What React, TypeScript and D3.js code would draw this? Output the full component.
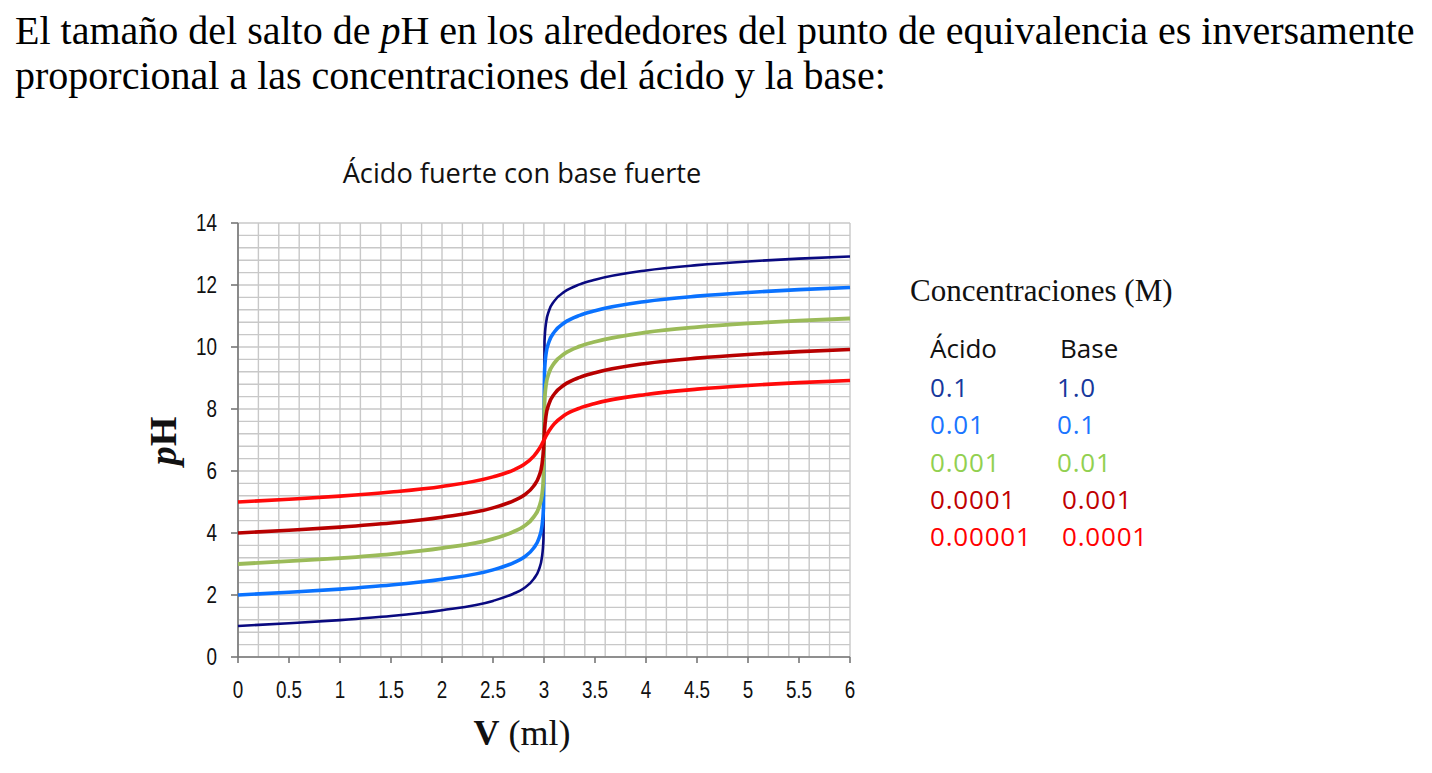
import React from "react";
import * as d3 from "d3";

const volumes = [0, 0.5, 1, 1.5, 2, 2.5, 2.7, 2.8, 2.9, 2.95, 2.98, 2.995, 3.0, 3.005, 3.02, 3.05, 3.1, 3.2, 3.35, 3.5, 4, 4.5, 5, 5.5, 6];

const phNavy = [1.0, 1.09, 1.19, 1.32, 1.51, 1.81, 2.04, 2.21, 2.52, 2.82, 3.22, 3.82, 7.0, 10.18, 10.78, 11.18, 11.48, 11.78, 12.02, 12.17, 12.47, 12.64, 12.76, 12.85, 12.92];
const phBlue = [2.0, 2.09, 2.19, 2.32, 2.51, 2.81, 3.04, 3.21, 3.52, 3.82, 4.22, 4.82, 7.0, 9.18, 9.78, 10.18, 10.48, 10.78, 11.02, 11.17, 11.47, 11.64, 11.76, 11.85, 11.92];
const phGreen = [3.0, 3.09, 3.19, 3.32, 3.51, 3.81, 4.04, 4.21, 4.52, 4.82, 5.22, 5.8, 7.0, 8.2, 8.78, 9.18, 9.48, 9.78, 10.02, 10.17, 10.47, 10.64, 10.76, 10.85, 10.92];
const phDarkRed = [4.0, 4.09, 4.19, 4.32, 4.51, 4.81, 5.04, 5.21, 5.52, 5.82, 6.21, 6.7, 7.0, 7.3, 7.79, 8.18, 8.48, 8.78, 9.02, 9.17, 9.47, 9.64, 9.76, 9.85, 9.92];
const phRed = [5.0, 5.09, 5.19, 5.32, 5.5, 5.81, 6.03, 6.2, 6.48, 6.7, 6.87, 6.97, 7.0, 7.03, 7.13, 7.3, 7.52, 7.8, 8.03, 8.18, 8.47, 8.64, 8.76, 8.85, 8.92];

const seriesList = [
  { name: "navy", values: phNavy, color: "#0a0a80", width: 2.6 },
  { name: "blue", values: phBlue, color: "#0a72ff", width: 3.6 },
  { name: "green", values: phGreen, color: "#9bbb59", width: 3.8 },
  { name: "darkred", values: phDarkRed, color: "#b80000", width: 3.6 },
  { name: "red", values: phRed, color: "#ff0a0a", width: 3.6 },
];

const xTicks = [0, 0.5, 1, 1.5, 2, 2.5, 3, 3.5, 4, 4.5, 5, 5.5, 6];
const yTicks = [0, 2, 4, 6, 8, 10, 12, 14];

const legendAcid = ["0.1", "0.01", "0.001", "0.0001", "0.00001"];
const legendBase = ["1.0", "0.1", "0.01", "0.001", "0.0001"];
const legendColors = ["#17389c", "#1a75ff", "#92d050", "#c00000", "#ff0000"];

export default function App() {
  const x = d3.scaleLinear().domain([0, 6]).range([238, 850]);
  const y = d3.scaleLinear().domain([0, 14]).range([657, 223]);
  const vGrid = d3.range(0, 6.0001, 0.2);
  const hGrid = d3.range(0, 14.0001, 0.4);
  const line = d3
    .line<number>()
    .x((_, i) => x(volumes[i]))
    .y((d) => y(d))
    .curve(d3.curveMonotoneX);

  const serif = "'Liberation Serif', 'Times New Roman', serif";
  const sans = "'Liberation Sans', Arial, sans-serif";
  const cal = "'Open Sans', sans-serif";

  return (
    <svg
      width={1432}
      height={773}
      style={{ position: "absolute", left: 0, top: 0, background: "#fff" }}
    >
      <rect x={0} y={0} width={1432} height={773} fill="#fff" />
      <text x={15} y={44} fontFamily={serif} fontSize={40} fill="#000">
        El tamaño del salto de <tspan fontStyle="italic">p</tspan>H en los alrededores del punto de equivalencia es inversamente
      </text>
      <text x={15} y={89} fontFamily={serif} fontSize={40} fill="#000">
        proporcional a las concentraciones del ácido y la base:
      </text>

      <text x={522} y={183} textAnchor="middle" fontFamily={cal} fontSize={27.2} fill="#111">
        Ácido fuerte con base fuerte
      </text>

      <g>
        {vGrid.map((v, i) => (
          <line key={"v" + i} x1={x(v)} x2={x(v)} y1={y(0)} y2={y(14)} stroke="#c8c8c8" strokeWidth={1.4} />
        ))}
        {hGrid.map((v, i) => (
          <line key={"h" + i} x1={x(0)} x2={x(6)} y1={y(v)} y2={y(v)} stroke="#c8c8c8" strokeWidth={1.4} />
        ))}
      </g>

      <line x1={x(0)} x2={x(0)} y1={y(0)} y2={y(14)} stroke="#777" strokeWidth={1.6} />
      <line x1={x(0)} x2={x(6)} y1={y(0)} y2={y(0)} stroke="#777" strokeWidth={1.6} />
      {yTicks.map((t) => (
        <g key={"yt" + t}>
          <line x1={x(0) - 7} x2={x(0)} y1={y(t)} y2={y(t)} stroke="#777" strokeWidth={1.6} />
          <text x={217} y={y(t) + 8.3} textAnchor="end" fontFamily={sans} fontSize={23} fill="#111" transform={`translate(217 0) scale(0.82 1) translate(-217 0)`}>
            {t}
          </text>
        </g>
      ))}
      {xTicks.map((t) => (
        <g key={"xt" + t}>
          <line x1={x(t)} x2={x(t)} y1={y(0)} y2={y(0) + 6} stroke="#777" strokeWidth={1.6} />
          <text x={x(t)} y={698.5} textAnchor="middle" fontFamily={sans} fontSize={23} fill="#111" transform={`translate(${x(t)} 0) scale(0.82 1) translate(${-x(t)} 0)`}>
            {t}
          </text>
        </g>
      ))}

      {seriesList.map((s) => (
        <path key={s.name} d={line(s.values) || ""} fill="none" stroke={s.color} strokeWidth={s.width} strokeLinejoin="round" />
      ))}

      <text transform="translate(176 441) rotate(-90)" textAnchor="middle" fontFamily={serif} fontSize={38} fontWeight="bold" fill="#111">
        <tspan fontStyle="italic">p</tspan>H
      </text>
      <text x={522} y={745} textAnchor="middle" fontFamily={serif} fontSize={36} fill="#111">
        <tspan fontWeight="bold">V</tspan> (ml)
      </text>

      <text x={910} y={301} fontFamily={serif} fontSize={31} fill="#111">
        Concentraciones (M)
      </text>
      <text x={930} y={358} fontFamily={cal} fontSize={26} fill="#111">Ácido</text>
      <text x={1060} y={358} fontFamily={cal} fontSize={26} fill="#111">Base</text>
      {legendAcid.map((a, i) => (
        <text key={"a" + i} x={930} y={397 + i * 37.3} fontFamily={cal} fontSize={26} letterSpacing={0.8} fill={legendColors[i]}>
          {a}
        </text>
      ))}
      {legendBase.map((b, i) => (
        <text key={"b" + i} x={i < 3 ? 1057 : 1062} y={397 + i * 37.3} fontFamily={cal} fontSize={26} letterSpacing={0.8} fill={legendColors[i]}>
          {b}
        </text>
      ))}
    </svg>
  );
}
